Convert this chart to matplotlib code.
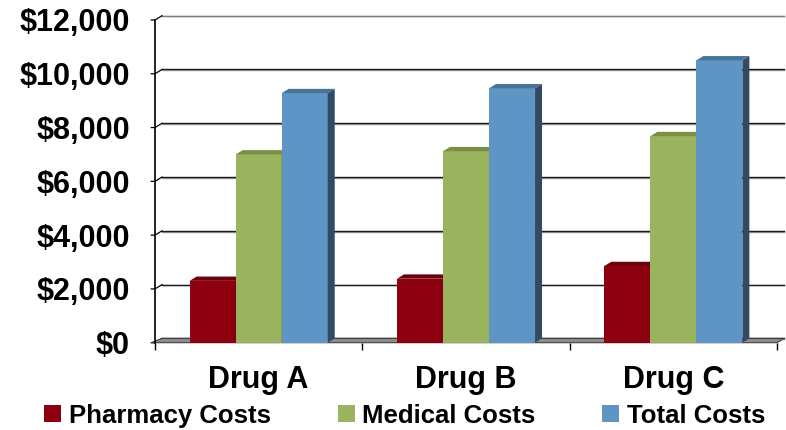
# Libraries
import numpy as np
import matplotlib.pyplot as plt
from matplotlib.patches import Patch, Polygon

plt.rcParams['font.family'] = ['Liberation Sans', 'DejaVu Sans']
plt.rcParams['font.weight'] = 'bold'

# Data
drugs = ['Drug A', 'Drug B', 'Drug C']
series = ['Pharmacy Costs', 'Medical Costs', 'Total Costs']
pharmacy = [2300, 2380, 2850]
medical = [7000, 7120, 7680]
total = [9280, 9460, 10500]
yticks = [0, 2000, 4000, 6000, 8000, 10000, 12000]

values = [pharmacy, medical, total]
front = ['#8c0010', '#9ab35f', '#5f95c4']
top_c = ['#6e000c', '#7a8f45', '#48749a']
side_c = ['#4d0008', '#5c6c33', '#324b63']

W, H = 786, 430
fig = plt.figure(figsize=(W / 100, H / 100), dpi=100)
# front plane of the plot area in pixels: x 155..777, y 342.7..20
ax = fig.add_axes([155 / W, 1 - 342.7 / H, (777 - 155) / W, (342.7 - 20) / H])
ax.set_xlim(-0.5, 2.5)
ax.set_ylim(0, 12000)
ax.patch.set_visible(False)
for s in ax.spines.values():
    s.set_visible(False)

# depth offset of the 3D effect (category units, data units)
dx = 7 / 207.3
dy = 160

# back wall grid
for v in yticks:
    ax.plot([-0.5 + dx, 2.5 + dx], [v + dy - 25, v + dy - 25], color='#a0a0a0', lw=1.0, clip_on=False, zorder=1)
    ax.plot([-0.5 + dx, 2.5 + dx], [v + dy, v + dy], color='#1a1a1a' if v < 12000 else '#7f7f7f', lw=1.0, clip_on=False, zorder=1)
    # small ticks on the left wall
    ax.plot([-0.5 - 0.018, -0.5, -0.5 + dx], [v, v, v + dy], color='black', lw=0.9, clip_on=False, zorder=2)

# floor
floor = Polygon([(-0.5 - 0.018, 0), (2.5, 0), (2.5 + dx, dy), (-0.5 + dx, dy)], closed=True,
                facecolor='#8c8c8c', edgecolor='#404040', lw=0.8, clip_on=False, zorder=2)
ax.add_patch(floor)

# left axis
ax.plot([-0.5, -0.5], [0, 12000], color='black', lw=1.2, clip_on=False, zorder=2)

# bars with top and side faces
bw = 0.222
x = np.arange(len(drugs))
z = 3
for i in range(len(drugs)):
    for j, vals in enumerate(values):
        x0 = x[i] + (j - 1) * bw - bw / 2
        x1 = x0 + bw
        h = vals[i]
        ax.bar(x0, h, width=bw, align='edge', color=front[j], zorder=z, clip_on=False)
        ax.add_patch(Polygon([(x0, h), (x1, h), (x1 + dx, h + dy), (x0 + dx, h + dy)],
                             closed=True, facecolor=top_c[j], edgecolor='none', zorder=z, clip_on=False))
        ax.add_patch(Polygon([(x1, 0), (x1 + dx, dy), (x1 + dx, h + dy), (x1, h)],
                             closed=True, facecolor=side_c[j], edgecolor='none', zorder=z, clip_on=False))
        z += 1

# ticks and labels
ax.set_yticks(yticks)
ax.set_yticklabels(['${:,}'.format(v) for v in yticks], fontsize=22, fontweight='bold')
ax.tick_params(axis='y', length=0, pad=18)
ax.set_xticks(x)
ax.set_xticklabels(drugs, fontsize=22, fontweight='bold')
ax.tick_params(axis='x', which='major', length=0, pad=16)
ax.set_xticks([-0.5, 0.5, 1.5, 2.5], minor=True)
ax.tick_params(axis='x', which='minor', length=5, width=1, color='black', direction='out')

custom_legend = [Patch(facecolor=front[k], edgecolor='none', label=series[k]) for k in range(3)]
fig.legend(handles=custom_legend, loc='center', bbox_to_anchor=(0.515, 0.033), ncol=3, frameon=False,
           prop={'size': 18.5, 'weight': 'bold'}, handlelength=0.66, handleheight=0.62,
           handletextpad=0.3, columnspacing=2.6, borderpad=0)

fig.savefig('out.png', dpi=100)
